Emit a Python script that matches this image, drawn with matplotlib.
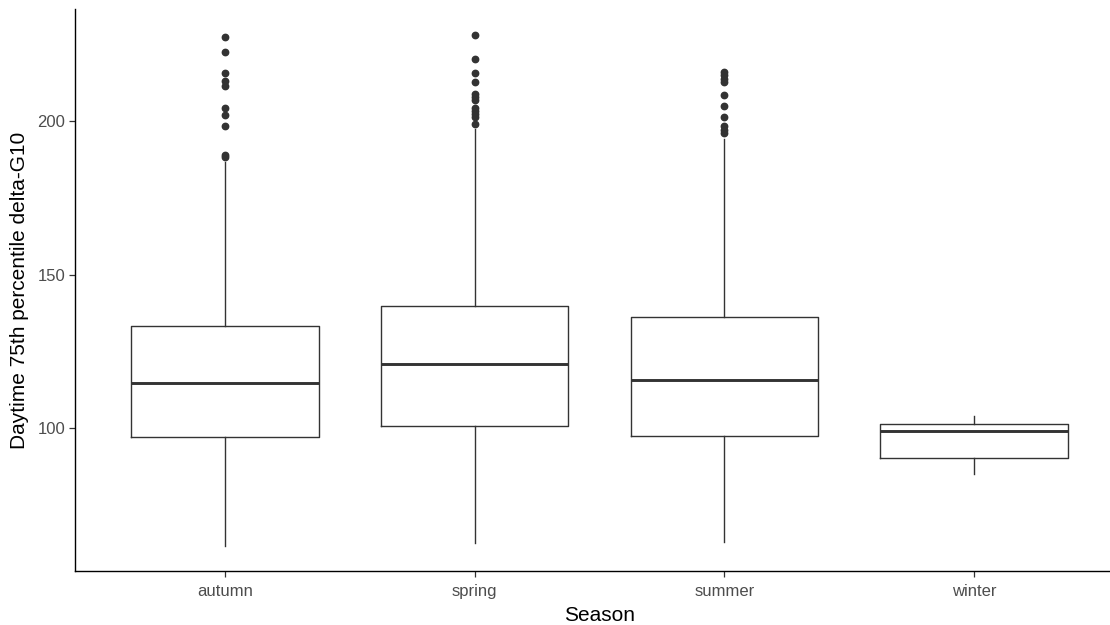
import matplotlib
matplotlib.use("Agg")
import matplotlib.pyplot as plt

plt.rcParams['font.family'] = ['Liberation Sans', 'DejaVu Sans']

seasons = ["autumn", "spring", "summer", "winter"]
q1 = [97.3, 100.7, 97.4, 90.3]
median = [114.8, 121.0, 115.8, 99.0]
q3 = [133.3, 139.9, 136.2, 101.5]
whisker_low = [61.8, 62.6, 62.9, 85.1]
whisker_high = [186.9, 197.4, 194.3, 103.9]
outliers_autumn = [227.5, 222.5, 215.6, 213.0, 211.5, 204.2, 202.0, 198.6, 189.1, 188.3]
outliers_spring = [228.1, 220.2, 215.6, 212.7, 209.0, 207.9, 206.9, 204.5, 203.4, 202.3, 201.4, 199.0]
outliers_summer = [216.1, 215.0, 213.9, 212.8, 208.5, 204.9, 201.4, 198.4, 197.3, 196.2]
outliers_winter = []
outliers = [outliers_autumn, outliers_spring, outliers_summer, outliers_winter]

stats = []
for i, s in enumerate(seasons):
    stats.append(dict(label=s, med=median[i], q1=q1[i], q3=q3[i],
                      whislo=whisker_low[i], whishi=whisker_high[i],
                      fliers=outliers[i]))

fig = plt.figure(figsize=(11.1, 6.25), dpi=100)
ax = fig.add_axes([75/1110, 54/625, (1124-75)/1110, (571-9)/625])

line_col = "#333333"
ax.bxp(stats, positions=range(1, 5), widths=0.75, showcaps=False,
       boxprops=dict(color=line_col, linewidth=1.0),
       whiskerprops=dict(color=line_col, linewidth=1.0),
       medianprops=dict(color=line_col, linewidth=2.1, solid_capstyle='butt'),
       flierprops=dict(marker='o', markerfacecolor=line_col, markeredgecolor=line_col,
                       markersize=4.6, linestyle='none'))

ax.set_xlim(0.4, 4.6)
ax.set_ylim(53.5, 236.6)
ax.set_yticks([100, 150, 200])
ax.set_xticks(range(1, 5))
ax.set_xticklabels(seasons)

for side in ["top", "right"]:
    ax.spines[side].set_visible(False)
for side in ["left", "bottom"]:
    ax.spines[side].set_color("black")
    ax.spines[side].set_linewidth(1.0)

ax.tick_params(axis='both', colors="#333333", length=4, width=0.9,
               labelcolor="#4D4D4D", labelsize=12)
ax.tick_params(axis='x', pad=5.5)
ax.tick_params(axis='y', pad=3)

ax.set_xlabel("Season", fontsize=15, color="black", labelpad=5)
ax.set_ylabel("Daytime 75th percentile delta-G10", fontsize=15, color="black", labelpad=6)

fig.savefig("out.png", dpi=100)
